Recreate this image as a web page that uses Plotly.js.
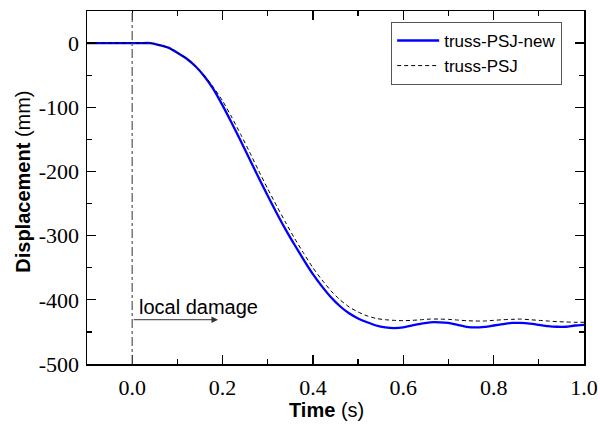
<!DOCTYPE html>
<html>
<head>
<meta charset="utf-8">
<script src="https://cdn.plot.ly/plotly-3.0.1.min.js"></script>
<style>body{margin:0;padding:0;background:#fff}#chart{width:600px;height:426px}</style>
</head>
<body>
<div id="chart"></div>
<script>
// Time (s)
var timeNew = [-0.1, 0, 0.02, 0.04, 0.06, 0.08, 0.1, 0.12, 0.14, 0.16, 0.18, 0.2, 0.22, 0.24, 0.26, 0.28, 0.3, 0.32, 0.34, 0.36, 0.38, 0.4, 0.42, 0.44, 0.46, 0.48, 0.5, 0.52, 0.54, 0.56, 0.58, 0.6, 0.62, 0.64, 0.66, 0.68, 0.7, 0.72, 0.74, 0.76, 0.78, 0.8, 0.82, 0.84, 0.86, 0.88, 0.9, 0.92, 0.94, 0.96, 0.98, 1.0];
// truss-PSJ-new displacement (mm)
var dispNew = [0, 0, 0, 0, -3, -7, -15, -24, -36, -52, -72, -97, -124, -152, -181, -210, -238, -265, -291, -315, -338, -360, -379, -396, -410, -421, -429, -435, -440, -443, -444, -443, -440, -437, -435, -435, -436, -439, -442, -443, -442, -440, -438, -436, -436, -437, -439, -441, -442, -442, -440, -439];
var timeOld = [-0.1, 0, 0.02, 0.04, 0.06, 0.08, 0.1, 0.12, 0.14, 0.16, 0.18, 0.2, 0.22, 0.24, 0.26, 0.28, 0.3, 0.32, 0.34, 0.36, 0.38, 0.4, 0.42, 0.44, 0.46, 0.48, 0.5, 0.52, 0.54, 0.56, 0.58, 0.6, 0.62, 0.64, 0.66, 0.68, 0.7, 0.72, 0.74, 0.76, 0.78, 0.8, 0.82, 0.84, 0.86, 0.88, 0.9, 0.92, 0.94, 0.96, 0.98, 1.0];
// truss-PSJ displacement (mm)
var dispOld = [0, 0, 0, 0, -3, -7, -15, -24, -36, -51, -69, -90, -115, -142, -170, -199, -227, -254, -280, -305, -328, -350, -369, -386, -400, -411, -419, -425, -429, -431, -432, -432.5, -432, -431, -430, -430, -430.5, -431.5, -432.5, -433, -433, -432, -431, -430.5, -430, -431, -432, -433, -434, -434.5, -435, -435];
var seriesNames = ["truss-PSJ-new", "truss-PSJ"];
var xTickVals = [0, 0.2, 0.4, 0.6, 0.8, 1.0];
var xTickText = ["0.0", "0.2", "0.4", "0.6", "0.8", "1.0"];
var yTickVals = [-500, -400, -300, -200, -100, 0];
var yTickText = ["-500", "-400", "-300", "-200", "-100", "0"];
var damageTime = 0;
var arrowLevel = -431;
var arrowEnd = 0.19;

var serif = "Liberation Serif, Times New Roman, serif";
var sans = "Liberation Sans, Arial, sans-serif";

var traces = [
  {x: timeNew, y: dispNew, name: seriesNames[0], type: "scatter", mode: "lines",
   line: {color: "#0000FF", width: 2.3, shape: "spline", smoothing: 0.6}},
  {x: timeOld, y: dispOld, name: seriesNames[1], type: "scatter", mode: "lines",
   line: {color: "#000000", width: 1, dash: "4px,3px", shape: "spline", smoothing: 0.6}}
];

var axisCommon = {
  showgrid: false, zeroline: false, showline: true, linecolor: "#000", linewidth: 1.5,
  mirror: "ticks", ticks: "inside", ticklen: 9, tickwidth: 1.3, tickcolor: "#000",
  tickfont: {family: serif, size: 22, color: "#000"}
};

var layout = {
  width: 600, height: 426,
  margin: {l: 87, r: 16, t: 11, b: 62, pad: 0},
  paper_bgcolor: "#fff", plot_bgcolor: "#fff",
  showlegend: true,
  legend: {x: 0.612, y: 0.969, xanchor: "left", yanchor: "top", itemwidth: 42,
    bgcolor: "#fff", bordercolor: "#555", borderwidth: 1,
    font: {family: sans, size: 17, color: "#000"}, tracegroupgap: 0},
  xaxis: Object.assign({}, axisCommon, {
    range: [-0.1, 1.0], tickvals: xTickVals, ticktext: xTickText, ticklabelstandoff: 3,
    minor: {dtick: 0.1, tick0: 0, ticks: "inside", ticklen: 5, tickwidth: 1.3, tickcolor: "#000", showgrid: false}
  }),
  yaxis: Object.assign({}, axisCommon, {
    range: [-500, 50], tickvals: yTickVals, ticktext: yTickText, ticklabelstandoff: 2,
    minor: {dtick: 50, tick0: 0, ticks: "inside", ticklen: 5, tickwidth: 1.3, tickcolor: "#000", showgrid: false}
  }),
  shapes: [
    {type: "line", xref: "x", yref: "paper", x0: damageTime, x1: damageTime, y0: 0, y1: 1,
     line: {color: "#555", width: 1.2, dash: "dashdot"}}
  ],
  annotations: [
    {xref: "paper", yref: "paper", x: 0.481, y: -0.13, xanchor: "center", yanchor: "middle",
     text: "<b>Time</b> (s)", showarrow: false, font: {family: sans, size: 20, color: "#000"}},
    {xref: "paper", yref: "paper", x: -0.129, y: 0.516, xanchor: "center", yanchor: "middle",
     text: "<b>Displacement</b> (mm)", textangle: -90, showarrow: false, font: {family: sans, size: 20, color: "#000"}},
    {xref: "x", yref: "y", x: 0.01, y: -411, xanchor: "left", yanchor: "middle",
     text: "local damage", showarrow: false, font: {family: sans, size: 20, color: "#000"}},
    {xref: "x", yref: "y", x: arrowEnd, y: arrowLevel, axref: "x", ayref: "y", ax: damageTime, ay: arrowLevel,
     text: "", showarrow: true, arrowhead: 2, arrowsize: 1.3, arrowwidth: 1, arrowcolor: "#333", standoff: 0, startstandoff: 0}
  ]
};

Plotly.newPlot("chart", traces, layout, {staticPlot: true, displayModeBar: false});
</script>
</body>
</html>
